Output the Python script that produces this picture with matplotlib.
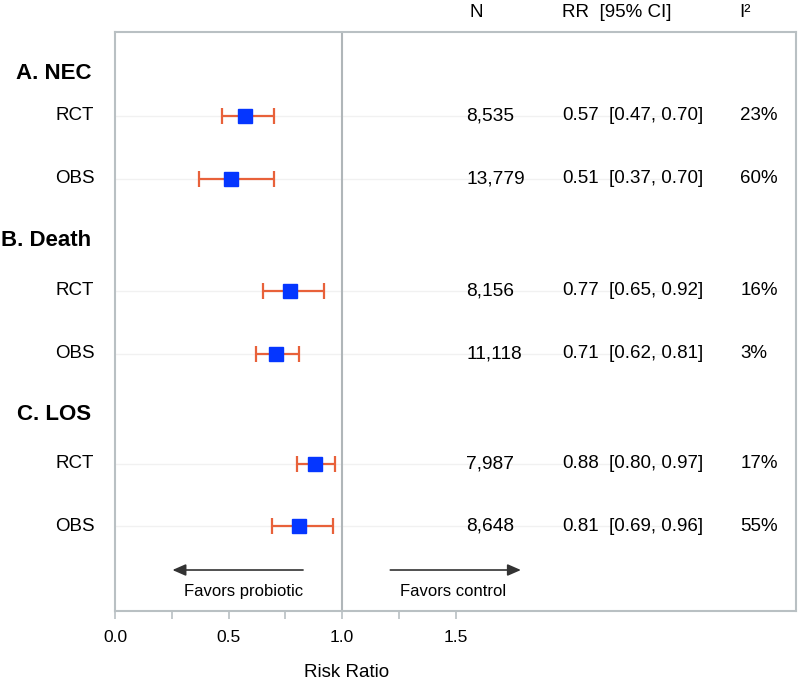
import numpy as np
import matplotlib
matplotlib.use('Agg')
import matplotlib.pyplot as plt

plt.rcParams['font.family'] = ['Liberation Sans', 'DejaVu Sans']

# data
groups = ['A. NEC', 'B. Death', 'C. LOS']
designs = ['RCT', 'OBS', 'RCT', 'OBS', 'RCT', 'OBS']
n_text = ['8,535', '13,779', '8,156', '11,118', '7,987', '8,648']
rr = [0.57, 0.51, 0.77, 0.71, 0.88, 0.81]
ci_low = [0.47, 0.37, 0.65, 0.62, 0.80, 0.69]
ci_high = [0.70, 0.70, 0.92, 0.81, 0.97, 0.96]
i2 = ['23%', '60%', '16%', '3%', '17%', '55%']

# layout (vertical positions, top of axes = 32, bottom = 611)
row_y = [116, 179, 291, 354, 464, 526]
group_y = [74, 241, 415]

fig = plt.figure(figsize=(8, 6.83), dpi=100)
ax = fig.add_axes([0.144, 0.1054, 0.851, 0.8478])
ax.set_xlim(0, 3)
ax.set_ylim(611, 32)

spine_col = '#b9c0c3'
for s in ax.spines.values():
    s.set_color(spine_col)
    s.set_linewidth(1.5)

# faint row gridlines
for y in row_y:
    ax.plot([0, 2.5], [y, y], color='#f1f1f1', lw=1, zorder=1)

ax.axvline(1.0, color='#b0b6b9', lw=1.5, zorder=1)

rr = np.array(rr)
err = [rr - np.array(ci_low), np.array(ci_high) - rr]
ax.errorbar(rr, row_y, xerr=err, fmt='none', ecolor='#e8613a', elinewidth=1.6,
            capsize=6, capthick=1.6, zorder=2)
ax.plot(rr, row_y, 's', color='#0536ff', markersize=10, zorder=3)

# left labels
for g, y in zip(groups, group_y):
    ax.text(-0.105, y, g, ha='right', va='center', fontsize=16,
            fontweight='bold', clip_on=False)
for d, y in zip(designs, row_y):
    ax.text(-0.092, y, d, ha='right', va='center', fontsize=13.5, clip_on=False)

# columns
ax.text(1.56, 13, 'N', ha='left', va='center', fontsize=13.5, clip_on=False)
ax.text(1.97, 13, 'RR  [95% CI]', ha='left', va='center', fontsize=13.5, clip_on=False)
ax.text(2.75, 13, 'I²', ha='left', va='center', fontsize=13.5, clip_on=False)
for k, y in enumerate(row_y):
    ax.text(1.547, y, n_text[k], ha='left', va='center', fontsize=13.8)
    ax.text(1.97, y, f'{rr[k]:.2f}', ha='left', va='center', fontsize=13.5)
    ax.text(2.175, y, f'[{ci_low[k]:.2f}, {ci_high[k]:.2f}]', ha='left',
            va='center', fontsize=13.5)
    ax.text(2.755, y, i2[k], ha='left', va='center', fontsize=13.5)

# direction arrows
ax.annotate('', xy=(0.24, 570), xytext=(0.84, 570),
            arrowprops=dict(arrowstyle='-|>,head_length=0.8,head_width=0.35',
                            color='#333333', lw=1.2))
ax.annotate('', xy=(1.8, 570), xytext=(1.2, 570),
            arrowprops=dict(arrowstyle='-|>,head_length=0.8,head_width=0.35',
                            color='#333333', lw=1.2))
ax.text(0.565, 591, 'Favors probiotic', ha='center', va='center', fontsize=12)
ax.text(1.49, 591, 'Favors control', ha='center', va='center', fontsize=12)

# x axis
ax.set_yticks([])
ax.set_xticks([0, 0.5, 1.0, 1.5])
ax.set_xticklabels(['0.0', '0.5', '1.0', '1.5'])
ax.set_xticks([0.25, 0.75, 1.25], minor=True)
ax.tick_params(axis='x', which='both', length=6, width=1.2, color=spine_col,
               labelsize=12.5, pad=8)
ax.set_xlabel('Risk Ratio', fontsize=13.5)
ax.xaxis.set_label_coords(0.34, -0.092)

fig.savefig('out.png', dpi=100)
